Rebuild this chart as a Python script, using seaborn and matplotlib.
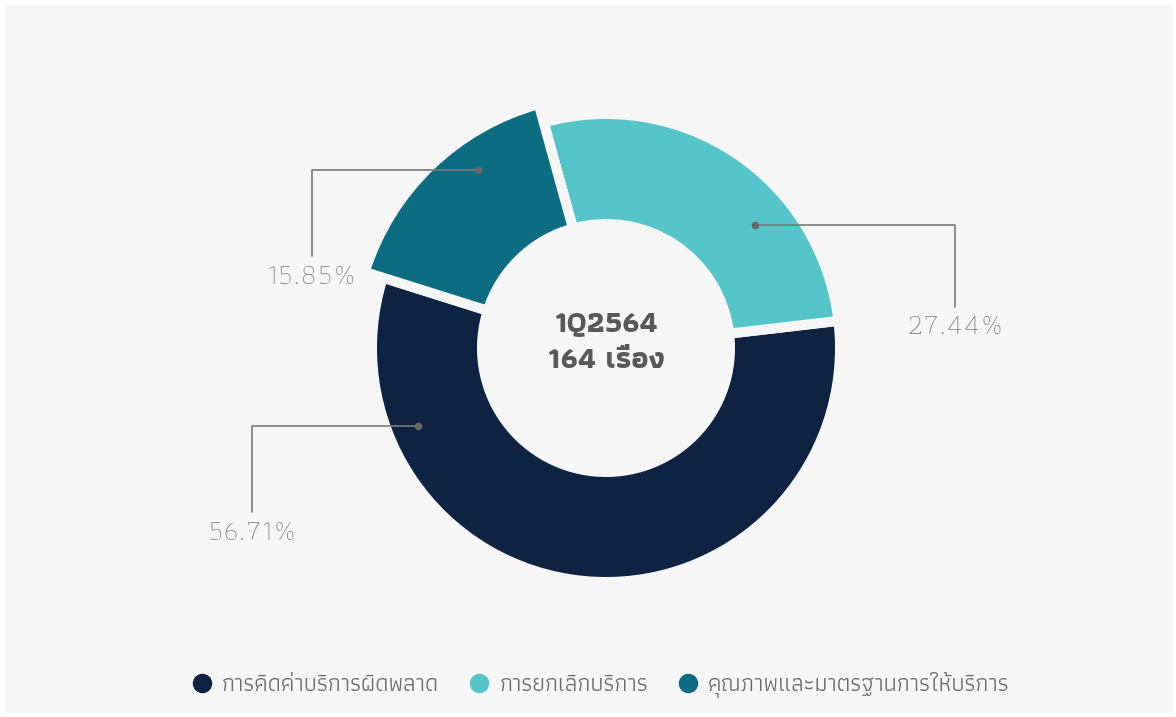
import numpy as np
import matplotlib
matplotlib.use("Agg")
import matplotlib.pyplot as plt
import matplotlib.patheffects as pe
from matplotlib import font_manager, ft2font
from matplotlib.lines import Line2D
from matplotlib.patches import Rectangle
import seaborn as sns

# data
categories = ["การคิดค่าบริการผิดพลาด", "การยกเลิกบริการ", "คุณภาพและมาตรฐานการให้บริการ"]
shares = [56.71, 27.44, 15.85]
pct_labels = ["56.71%", "27.44%", "15.85%"]
period = "1Q2564"
total_label = "164 เรื่อง"

colors = ["#0e2242", "#56c5c9", "#0b6c82"]
bg = "#f6f6f6"

sns.set_theme(style="white")

# find an installed family with Thai glyphs (prefer one that has a bold face)
thai = {}
for f in font_manager.fontManager.ttflist:
    try:
        if 0x0E01 in ft2font.FT2Font(f.fname).get_charmap():
            w = f.weight if isinstance(f.weight, int) else 400
            thai[f.name] = max(thai.get(f.name, 0), w)
    except Exception:
        pass
names = sorted(thai, key=lambda n: (-(thai[n] >= 600), n))
thai_family = names[:1] + ["DejaVu Sans"]
has_bold = bool(names) and thai[names[0]] >= 600
plt.rcParams["font.family"] = thai_family

W, H = 1176, 717
fig = plt.figure(figsize=(W / 100, H / 100), dpi=100, facecolor="white")
ax = fig.add_axes([0, 0, 1, 1])


def py(y):
    return H - y


cx, cy = 606, py(348)
wedges, _ = ax.pie(shares, colors=colors, startangle=162.5, counterclock=True,
                   center=(cx, cy), radius=234,
                   wedgeprops=dict(width=110, edgecolor=bg, linewidth=7.2))
# the smallest slice sticks out a bit further
wedges[2].set_radius(253)
wedges[2].set_width(129)
ax.add_patch(Rectangle((5, py(712)), 1166, 707, color=bg, zorder=0))
ax.set_xlim(0, W)
ax.set_ylim(0, H)
ax.set_aspect("equal")
ax.axis("off")

# leader lines: anchor (angle deg, radius px) and label centre (px)
anchors = [(202.5, 204), (39.5, 193), (125.7, 219)]
label_pos = [(252, 532), (955, 327), (312, 276)]
for pct, (ang, r), (lx, ly) in zip(pct_labels, anchors, label_pos):
    x0 = cx + r * np.cos(np.radians(ang))
    y0 = cy + r * np.sin(np.radians(ang))
    ax.plot(x0, y0, "o", ms=4.5, color="#666666", zorder=5)
    ax.annotate(pct, xy=(x0, y0), xytext=(lx, py(ly)), ha="center", va="center",
                fontsize=21, color="#878787", fontweight="light", family=thai_family,
                arrowprops=dict(arrowstyle="-", color="#7a7a7a", lw=1.2,
                                connectionstyle="angle,angleA=90,angleB=0,rad=0",
                                shrinkA=3, shrinkB=0))

# centre text, thickened with a stroke when no bold face exists
effects = [] if has_bold else [pe.withStroke(linewidth=1.6, foreground="#595959")]
for txt, y in [(period, 324), (total_label, 360)]:
    ax.text(cx, py(y), txt, ha="center", va="center", fontsize=22,
            fontweight="bold", color="#595959", path_effects=effects)

handles = [Line2D([], [], marker="o", ls="", ms=13, mfc=c, mec=c) for c in colors]
fig.legend(handles, categories, loc="center",
           bbox_to_anchor=(0.5 + 12 / W, 1 - 685 / H),
           ncol=3, frameon=False, labelcolor="#6b6b6b", handlelength=1.0,
           handletextpad=0.35, columnspacing=1.2,
           prop={"family": thai_family, "size": 17})

fig.savefig("out.png", dpi=100, facecolor="white")
